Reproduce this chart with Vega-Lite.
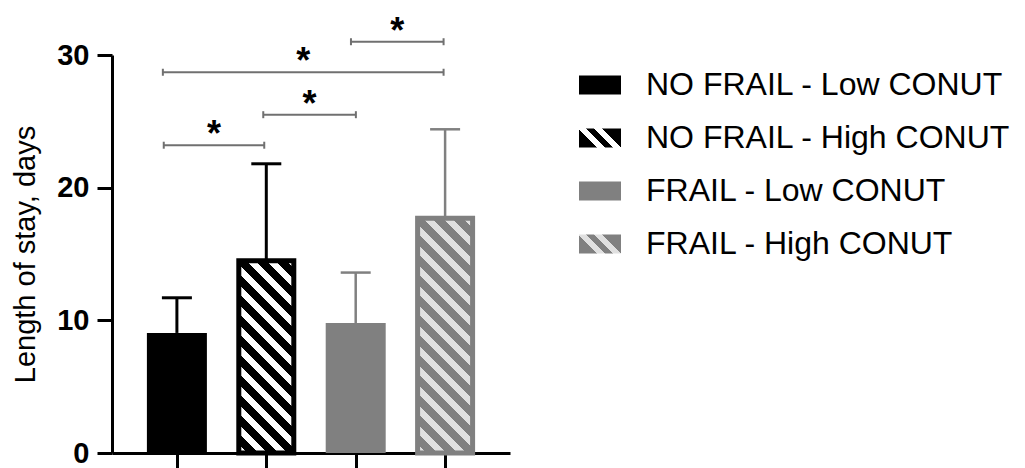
{
  "$schema": "https://vega.github.io/schema/vega-lite/v6.json",
  "autosize": {"type": "none"},
  "padding": {"left": 112, "top": 55, "right": 515, "bottom": 15},
  "width": 398,
  "height": 398,
  "config": {"font": "Liberation Sans", "view": {"stroke": null}},
  "datasets": {
    "bars": [
      {"group": "NO FRAIL - Low CONUT", "pos": 1, "mean": 9.05, "upper": 11.7},
      {"group": "NO FRAIL - High CONUT", "pos": 2, "mean": 14.5, "upper": 21.8},
      {"group": "FRAIL - Low CONUT", "pos": 3, "mean": 9.8, "upper": 13.6},
      {"group": "FRAIL - High CONUT", "pos": 4, "mean": 17.7, "upper": 24.4}
    ],
    "sig": [
      {"x1": 0.853, "x2": 1.977, "y": 23.2, "xm": 1.415, "label": "*"},
      {"x1": 1.966, "x2": 3.002, "y": 25.5, "xm": 2.484, "label": "*"},
      {"x1": 0.843, "x2": 3.983, "y": 28.7, "xm": 2.413, "label": "*"},
      {"x1": 2.947, "x2": 3.983, "y": 31.0, "xm": 3.465, "label": "*"}
    ]
  },
  "layer": [
    {
      "data": {"name": "bars"},
      "transform": [{"filter": "datum.pos == 1 || datum.pos == 3"}],
      "mark": {"type": "bar", "width": 60, "orient": "vertical", "clip": false},
      "encoding": {
        "x": {"field": "pos", "type": "quantitative", "scale": {"domain": [0.33, 4.67], "nice": false, "zero": false},
          "axis": {"values": [1, 2, 3, 4], "labels": false, "title": null, "grid": false, "tickSize": 16, "tickWidth": 3, "tickColor": "#000", "domainWidth": 3, "domainColor": "#000"}},
        "y": {"field": "mean", "type": "quantitative", "scale": {"domain": [0, 30], "nice": false},
          "axis": {"values": [0, 10, 20, 30], "grid": false, "title": "Length of stay, days", "titleFontSize": 29, "titleFontWeight": "normal", "titleColor": "#000", "titlePadding": 16,
            "labelFontSize": 29, "labelFontWeight": "bold", "labelColor": "#000", "labelPadding": 8, "tickSize": 15, "tickWidth": 3, "tickColor": "#000", "domainWidth": 3, "domainColor": "#000"}},
        "y2": {"datum": 0},
        "fill": {"field": "group", "type": "nominal",
          "scale": {"domain": ["NO FRAIL - Low CONUT", "NO FRAIL - High CONUT", "FRAIL - Low CONUT", "FRAIL - High CONUT"],
            "range": [
              "#000000",
              {"expr": "({gradient: 'linear', x1: 0, y1: 1, x2: 1.206, y2: 0.457, stops: [{offset: 0, color: '#000000'}, {offset: 0.296, color: '#000000'}, {offset: 0.296, color: '#ffffff'}, {offset: 0.427, color: '#ffffff'}, {offset: 0.427, color: '#000000'}, {offset: 0.558, color: '#000000'}, {offset: 0.558, color: '#ffffff'}, {offset: 0.690, color: '#ffffff'}, {offset: 0.690, color: '#000000'}, {offset: 1, color: '#000000'}]})"},
              "#808080",
              {"expr": "({gradient: 'linear', x1: 0, y1: 1, x2: 1.206, y2: 0.457, stops: [{offset: 0, color: '#808080'}, {offset: 0.296, color: '#808080'}, {offset: 0.296, color: '#e0e0e0'}, {offset: 0.427, color: '#e0e0e0'}, {offset: 0.427, color: '#808080'}, {offset: 0.558, color: '#808080'}, {offset: 0.558, color: '#e0e0e0'}, {offset: 0.690, color: '#e0e0e0'}, {offset: 0.690, color: '#808080'}, {offset: 1, color: '#808080'}]})"}
            ]},
          "legend": {
            "orient": "none", "legendX": 467, "legendY": 9, "title": null, "direction": "vertical",
            "labelFontSize": 32, "labelColor": "#000", "labelOffset": 25, "labelLimit": 0,
            "rowPadding": 16, "symbolType": "M-1,-0.45H1V0.45H-1Z", "symbolSize": 1764, "symbolStrokeWidth": 0, "symbolOpacity": 1
          }
        }
      }
    },
    {
      "data": {"name": "bars"},
      "transform": [{"filter": "datum.pos == 2"}],
      "mark": {"type": "bar", "width": 55, "orient": "vertical", "clip": false, "stroke": "#000", "strokeWidth": 5,
        "fill": {"gradient": "linear", "x1": 0, "y1": 1, "x2": 0.3398, "y2": -0.1887, "stops": [
          {"offset": 0, "color": "#fff"}, {"offset": 0.0364, "color": "#fff"}, {"offset": 0.0364, "color": "#000"}, {"offset": 0.0808, "color": "#000"},
          {"offset": 0.0808, "color": "#fff"}, {"offset": 0.1172, "color": "#fff"}, {"offset": 0.1172, "color": "#000"}, {"offset": 0.1617, "color": "#000"},
          {"offset": 0.1617, "color": "#fff"}, {"offset": 0.1981, "color": "#fff"}, {"offset": 0.1981, "color": "#000"}, {"offset": 0.2425, "color": "#000"},
          {"offset": 0.2425, "color": "#fff"}, {"offset": 0.2789, "color": "#fff"}, {"offset": 0.2789, "color": "#000"}, {"offset": 0.3234, "color": "#000"},
          {"offset": 0.3234, "color": "#fff"}, {"offset": 0.3597, "color": "#fff"}, {"offset": 0.3597, "color": "#000"}, {"offset": 0.4042, "color": "#000"},
          {"offset": 0.4042, "color": "#fff"}, {"offset": 0.4406, "color": "#fff"}, {"offset": 0.4406, "color": "#000"}, {"offset": 0.4850, "color": "#000"},
          {"offset": 0.4850, "color": "#fff"}, {"offset": 0.5214, "color": "#fff"}, {"offset": 0.5214, "color": "#000"}, {"offset": 0.5659, "color": "#000"},
          {"offset": 0.5659, "color": "#fff"}, {"offset": 0.6023, "color": "#fff"}, {"offset": 0.6023, "color": "#000"}, {"offset": 0.6467, "color": "#000"},
          {"offset": 0.6467, "color": "#fff"}, {"offset": 0.6831, "color": "#fff"}, {"offset": 0.6831, "color": "#000"}, {"offset": 0.7276, "color": "#000"},
          {"offset": 0.7276, "color": "#fff"}, {"offset": 0.7639, "color": "#fff"}, {"offset": 0.7639, "color": "#000"}, {"offset": 0.8084, "color": "#000"},
          {"offset": 0.8084, "color": "#fff"}, {"offset": 0.8448, "color": "#fff"}, {"offset": 0.8448, "color": "#000"}, {"offset": 0.8892, "color": "#000"},
          {"offset": 0.8892, "color": "#fff"}, {"offset": 0.9256, "color": "#fff"}, {"offset": 0.9256, "color": "#000"}, {"offset": 0.9701, "color": "#000"},
          {"offset": 0.9701, "color": "#fff"}, {"offset": 1, "color": "#fff"}]}},
      "encoding": {
        "x": {"field": "pos", "type": "quantitative"},
        "y": {"field": "mean", "type": "quantitative"},
        "y2": {"datum": 0}
      }
    },
    {
      "data": {"name": "bars"},
      "transform": [{"filter": "datum.pos == 4"}],
      "mark": {"type": "bar", "width": 55, "orient": "vertical", "clip": false, "stroke": "#808080", "strokeWidth": 5,
        "fill": {"gradient": "linear", "x1": 0, "y1": 1, "x2": 0.2741, "y2": -0.170, "stops": [
          {"offset": 0, "color": "#e0e0e0"}, {"offset": 0.0311, "color": "#e0e0e0"}, {"offset": 0.0311, "color": "#808080"}, {"offset": 0.0690, "color": "#808080"},
          {"offset": 0.0690, "color": "#e0e0e0"}, {"offset": 0.1001, "color": "#e0e0e0"}, {"offset": 0.1001, "color": "#808080"}, {"offset": 0.1380, "color": "#808080"},
          {"offset": 0.1380, "color": "#e0e0e0"}, {"offset": 0.1691, "color": "#e0e0e0"}, {"offset": 0.1691, "color": "#808080"}, {"offset": 0.2070, "color": "#808080"},
          {"offset": 0.2070, "color": "#e0e0e0"}, {"offset": 0.2381, "color": "#e0e0e0"}, {"offset": 0.2381, "color": "#808080"}, {"offset": 0.2761, "color": "#808080"},
          {"offset": 0.2761, "color": "#e0e0e0"}, {"offset": 0.3071, "color": "#e0e0e0"}, {"offset": 0.3071, "color": "#808080"}, {"offset": 0.3451, "color": "#808080"},
          {"offset": 0.3451, "color": "#e0e0e0"}, {"offset": 0.3761, "color": "#e0e0e0"}, {"offset": 0.3761, "color": "#808080"}, {"offset": 0.4141, "color": "#808080"},
          {"offset": 0.4141, "color": "#e0e0e0"}, {"offset": 0.4451, "color": "#e0e0e0"}, {"offset": 0.4451, "color": "#808080"}, {"offset": 0.4831, "color": "#808080"},
          {"offset": 0.4831, "color": "#e0e0e0"}, {"offset": 0.5142, "color": "#e0e0e0"}, {"offset": 0.5142, "color": "#808080"}, {"offset": 0.5521, "color": "#808080"},
          {"offset": 0.5521, "color": "#e0e0e0"}, {"offset": 0.5832, "color": "#e0e0e0"}, {"offset": 0.5832, "color": "#808080"}, {"offset": 0.6211, "color": "#808080"},
          {"offset": 0.6211, "color": "#e0e0e0"}, {"offset": 0.6522, "color": "#e0e0e0"}, {"offset": 0.6522, "color": "#808080"}, {"offset": 0.6901, "color": "#808080"},
          {"offset": 0.6901, "color": "#e0e0e0"}, {"offset": 0.7212, "color": "#e0e0e0"}, {"offset": 0.7212, "color": "#808080"}, {"offset": 0.7592, "color": "#808080"},
          {"offset": 0.7592, "color": "#e0e0e0"}, {"offset": 0.7902, "color": "#e0e0e0"}, {"offset": 0.7902, "color": "#808080"}, {"offset": 0.8282, "color": "#808080"},
          {"offset": 0.8282, "color": "#e0e0e0"}, {"offset": 0.8592, "color": "#e0e0e0"}, {"offset": 0.8592, "color": "#808080"}, {"offset": 0.8972, "color": "#808080"},
          {"offset": 0.8972, "color": "#e0e0e0"}, {"offset": 0.9283, "color": "#e0e0e0"}, {"offset": 0.9283, "color": "#808080"}, {"offset": 0.9662, "color": "#808080"},
          {"offset": 0.9662, "color": "#e0e0e0"}, {"offset": 0.9973, "color": "#e0e0e0"}, {"offset": 0.9973, "color": "#808080"}, {"offset": 1, "color": "#808080"}]}},
      "encoding": {
        "x": {"field": "pos", "type": "quantitative"},
        "y": {"field": "mean", "type": "quantitative"},
        "y2": {"datum": 0}
      }
    },
    {
      "data": {"name": "bars"},
      "mark": {"type": "rule", "clip": false},
      "encoding": {
        "x": {"field": "pos", "type": "quantitative"},
        "y": {"field": "mean", "type": "quantitative"},
        "y2": {"field": "upper"},
        "stroke": {"condition": {"test": "datum.pos <= 2", "value": "#000000"}, "value": "#808080"},
        "strokeWidth": {"condition": {"test": "datum.pos <= 2", "value": 3}, "value": 2.5}
      }
    },
    {
      "data": {"name": "bars"},
      "mark": {"type": "point", "shape": "M-1,0H1", "size": 900, "filled": false, "opacity": 1, "clip": false},
      "encoding": {
        "x": {"field": "pos", "type": "quantitative"},
        "y": {"field": "upper", "type": "quantitative"},
        "stroke": {"condition": {"test": "datum.pos <= 2", "value": "#000000"}, "value": "#808080"},
        "strokeWidth": {"condition": {"test": "datum.pos <= 2", "value": 3}, "value": 2.5}
      }
    },
    {
      "data": {"name": "sig"},
      "mark": {"type": "rule", "clip": false, "stroke": "#707070", "strokeWidth": 2},
      "encoding": {
        "x": {"field": "x1", "type": "quantitative"},
        "x2": {"field": "x2"},
        "y": {"field": "y", "type": "quantitative"}
      }
    },
    {
      "data": {"name": "sig"},
      "transform": [{"fold": ["x1", "x2"], "as": ["end", "xe"]}],
      "mark": {"type": "point", "shape": "M0,-1V1", "size": 49, "filled": false, "opacity": 1, "stroke": "#707070", "strokeWidth": 2, "clip": false},
      "encoding": {
        "x": {"field": "xe", "type": "quantitative"},
        "y": {"field": "y", "type": "quantitative"}
      }
    },
    {
      "data": {"name": "sig"},
      "mark": {"type": "text", "fontSize": 36, "fontWeight": "bold", "color": "#000", "baseline": "alphabetic", "align": "center", "dy": 1, "clip": false},
      "encoding": {
        "x": {"field": "xm", "type": "quantitative"},
        "y": {"field": "y", "type": "quantitative"},
        "text": {"field": "label"}
      }
    }
  ]
}
